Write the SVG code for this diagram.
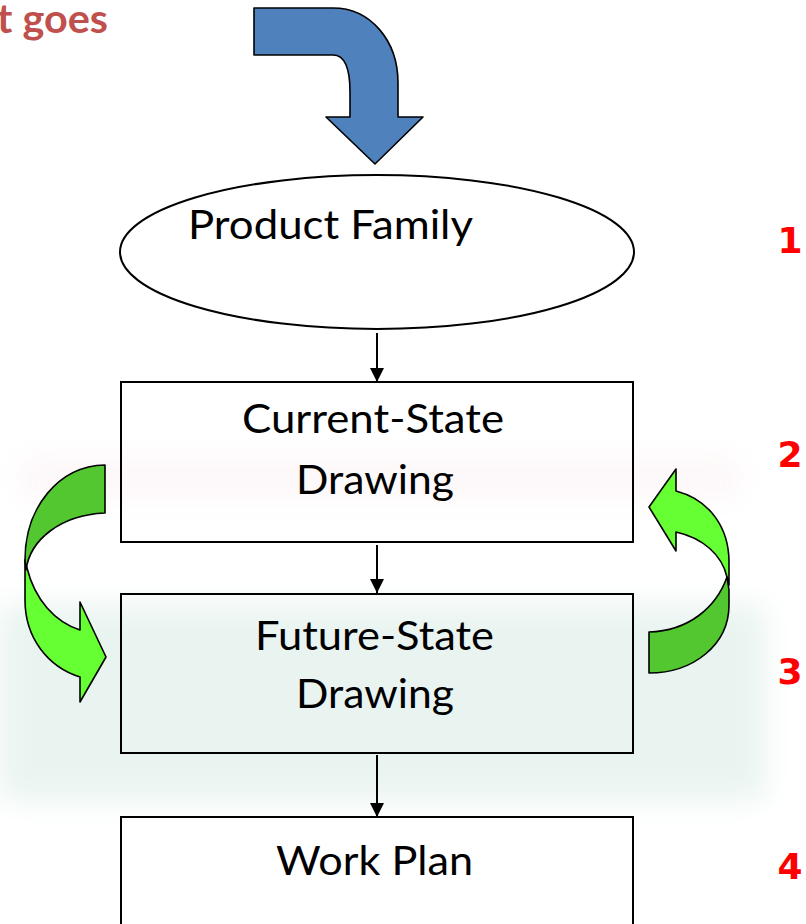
<svg xmlns="http://www.w3.org/2000/svg" width="806" height="924" viewBox="0 0 806 924">
<defs>
<style>
.lbl{font-family:Lato,"Liberation Sans",sans-serif;font-size:40px;fill:#000}
.num{font-family:"DejaVu Sans",Verdana,sans-serif;font-weight:bold;font-size:36px;fill:#ff0000;text-anchor:middle}
.box{fill:none;stroke:#000;stroke-width:2}
.conn{stroke:#000;stroke-width:2;fill:none;marker-end:url(#ah)}
.gl{fill:#66ff33;stroke:#000;stroke-width:1.6;stroke-linejoin:round}
.gd{fill:#52c72f;stroke:#000;stroke-width:1.6;stroke-linejoin:round}
</style>
<marker id="ah" markerUnits="userSpaceOnUse" markerWidth="14" markerHeight="15" refX="14" refY="7" orient="auto">
<path d="M0,0 L14,7 L0,14 Z" fill="#000"/>
</marker>
<filter id="blur" x="-10%" y="-30%" width="120%" height="160%"><feGaussianBlur stdDeviation="14"/></filter>
</defs>
<rect width="806" height="924" fill="#fff"/>
<g id="watermark" filter="url(#blur)">
<rect x="0" y="605" width="765" height="195" fill="#e9f4f0"/>
<rect x="20" y="458" width="720" height="40" fill="#fdf7f8"/>
</g>
<text x="-3" y="33" textLength="111" lengthAdjust="spacingAndGlyphs" style="font-family:Lato,'Liberation Sans',sans-serif;font-weight:bold;font-size:41px;fill:#c0504d">t goes</text>
<g id="start-arrow">
<path d="M254,8 L333,8 C370,8 398,40 398,83 L398,117 L423,117 L375,164 L326,117 L350,117 L350,92 C350,68 345,55 333,55 L254,55 Z" fill="#4f81bd" stroke="#000" stroke-width="1.6" stroke-linejoin="round"/>
</g>
<g id="connectors">
<line class="conn" x1="377" y1="333" x2="377" y2="382"/>
<line class="conn" x1="377" y1="545" x2="377" y2="593"/>
<line class="conn" x1="377" y1="755" x2="377" y2="817"/>
</g>
<g id="product-family">
<ellipse cx="377" cy="252" rx="257" ry="77" fill="#fff" stroke="#000" stroke-width="2"/>
<text class="lbl" x="188" y="239" textLength="285" lengthAdjust="spacingAndGlyphs">Product Family</text>
</g>
<g id="current-state">
<rect class="box" x="121" y="382" width="512" height="160"/>
<text class="lbl" x="242" y="433" textLength="262" lengthAdjust="spacingAndGlyphs">Current-State</text>
<text class="lbl" x="296" y="494" textLength="158" lengthAdjust="spacingAndGlyphs">Drawing</text>
</g>
<g id="future-state">
<rect class="box" x="121" y="594" width="512" height="159"/>
<text class="lbl" x="255" y="650" textLength="239" lengthAdjust="spacingAndGlyphs">Future-State</text>
<text class="lbl" x="296" y="708" textLength="158" lengthAdjust="spacingAndGlyphs">Drawing</text>
</g>
<g id="work-plan">
<rect class="box" x="121" y="817" width="512" height="120"/>
<text class="lbl" x="276" y="875" textLength="197" lengthAdjust="spacingAndGlyphs">Work Plan</text>
</g>
<g id="loop-left">
<path class="gl" d="M25,560 L25,600 C25,638 48,667 80,677 L80,702 L106,657 L80,602 L80,630 C55,622 35,600 27,568 Z"/>
<path class="gd" d="M105,465 C58,466 25,508 25,560 L26,570 C30,540 60,515 105,513 Z"/>
</g>
<g id="loop-right">
<path class="gl" d="M727,577 C722,555 703,538 676,532 L676,551 L649,507 L676,469 L676,491 C710,500 729,528 729,562 L729,585 Z"/>
<path class="gd" d="M649,632 C688,631 716,608 727,577 L729,590 L729,605 C729,645 693,673 649,673 Z"/>
</g>
<g id="numbers">
<text class="num" x="790" y="253">1</text>
<text class="num" x="790" y="467">2</text>
<text class="num" x="790" y="684">3</text>
<text class="num" x="790" y="879">4</text>
</g>
</svg>
